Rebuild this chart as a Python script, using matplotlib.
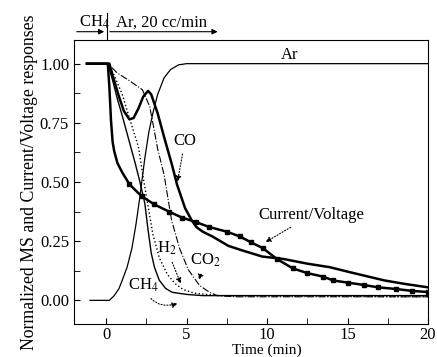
import matplotlib
matplotlib.use("Agg")
import matplotlib.pyplot as plt

plt.rcParams['font.family'] = ['Liberation Serif', 'DejaVu Serif']
plt.rcParams['mathtext.fontset'] = 'stix'

# Ar (thin solid)
t_ar = [-1.0, 0.2, 0.5, 0.8, 1.0, 1.3, 1.6, 1.85, 2.1, 2.4, 2.65, 2.9, 3.2, 3.6, 4.0, 4.5, 5.0, 20.0]
ar = [0.0, 0.0, 0.02, 0.05, 0.085, 0.14, 0.22, 0.32, 0.44, 0.6, 0.71, 0.79, 0.87, 0.94, 0.975, 0.995, 1.0, 1.0]

# Current/Voltage (thick, squares)
t_cv = [-1.2, -0.6, 0.0, 0.1, 0.2, 0.3, 0.4, 0.5, 0.7, 1.0, 1.45, 2.2, 3.0, 3.9, 4.7, 5.6, 6.4,
        7.5, 8.3, 9.0, 9.75, 10.6, 11.6, 12.5, 13.5, 14.1, 15.0, 16.0, 16.9, 18.0, 19.0, 20.0]
cv = [1.0, 1.0, 1.0, 1.0, 0.9, 0.76, 0.67, 0.63, 0.58, 0.54, 0.49, 0.44, 0.405, 0.375, 0.35, 0.33, 0.31,
      0.29, 0.27, 0.245, 0.22, 0.175, 0.135, 0.115, 0.10, 0.084, 0.075, 0.065, 0.055, 0.048, 0.04, 0.035]

# CO (solid, noisy tail)
t_co = [-1.2, 0.0, 0.2, 0.4, 0.8, 1.1, 1.44, 1.7, 2.0, 2.3, 2.6, 2.8, 3.2, 3.6, 4.1, 4.4, 4.9, 5.3,
        5.6, 6.0, 6.6, 7.6, 8.5, 9.7, 11.0, 12.5, 13.9, 15.2, 17.3, 18.5, 20.0]
co = [1.0, 1.0, 1.0, 0.95, 0.86, 0.8, 0.765, 0.77, 0.81, 0.86, 0.885, 0.87, 0.79, 0.69, 0.57, 0.49, 0.39, 0.34,
      0.31, 0.29, 0.27, 0.23, 0.21, 0.185, 0.175, 0.155, 0.14, 0.118, 0.084, 0.07, 0.055]

# CH4 (thin solid)
t_ch4 = [-1.0, 0.1, 0.4, 0.7, 1.0, 1.4, 1.8, 2.1, 2.4, 2.6, 2.8, 3.0, 3.3, 3.7, 4.1, 5.0, 6.0, 20.0]
ch4 = [1.0, 1.0, 0.93, 0.85, 0.78, 0.68, 0.58, 0.5, 0.41, 0.3, 0.2, 0.14, 0.085, 0.05, 0.034, 0.025, 0.02, 0.02]

# H2 (dotted)
t_h2 = [-1.0, 0.1, 0.5, 1.0, 1.4, 2.0, 2.3, 2.6, 2.9, 3.3, 3.8, 4.3, 4.8, 5.5, 7.0, 20.0]
h2 = [1.0, 1.0, 0.95, 0.87, 0.78, 0.65, 0.52, 0.4, 0.28, 0.18, 0.11, 0.07, 0.045, 0.03, 0.02, 0.015]

# CO2 (dash-dot)
t_co2 = [-1.0, 0.1, 0.7, 1.4, 2.25, 2.7, 2.9, 3.2, 3.6, 4.06, 4.56, 5.1, 5.8, 6.4, 6.9, 8.0, 20.0]
co2 = [1.0, 1.0, 0.96, 0.93, 0.89, 0.82, 0.75, 0.64, 0.53, 0.34, 0.22, 0.13, 0.063, 0.035, 0.02, 0.015, 0.015]

fig = plt.figure(figsize=(4.37, 3.57), dpi=100)
ax = fig.add_axes([0.1693, 0.0924, 0.8101, 0.7956])

ax.plot(t_ar, ar, 'k-', lw=0.9)
ax.plot(t_ch4, ch4, 'k-', lw=1.0)
ax.plot(t_h2, h2, 'k:', lw=1.0)
ax.plot(t_co2, co2, 'k-.', lw=0.8)
ax.plot(t_co, co, 'k-', lw=1.8)
ax.plot(t_cv, cv, 'k-', lw=1.8, marker='s', ms=3.5, markevery=slice(10, None))

ax.set_xlim(-2, 20)
ax.set_ylim(-0.1, 1.1)
ax.set_xticks([0, 5, 10, 15, 20])
ax.set_xticks([2.5, 7.5, 12.5, 17.5], minor=True)
ax.set_yticks([0.0, 0.25, 0.5, 0.75, 1.0])
ax.set_yticks([0.125, 0.375, 0.625, 0.875], minor=True)
ax.set_yticklabels(['0.00', '0.25', '0.50', '0.75', '1.00'])
ax.tick_params(which='both', direction='in', labelsize=12, top=False, right=False)
ax.tick_params(which='major', length=4)
ax.tick_params(which='minor', length=4)
ax.tick_params(axis='x', pad=2)

ax.set_ylabel('Normalized MS and Current/Voltage responses', fontsize=12.8, labelpad=1)
fig.text(267 / 437, 0.001, 'Time (min)', ha='center', va='bottom', fontsize=11)

# labels on curves
arrow = dict(arrowstyle='-|>', linestyle=':', lw=0.8, color='k', mutation_scale=8)
ax.text(11.4, 1.035, 'Ar', fontsize=12, ha='center', va='center')
ax.annotate('CO', xy=(4.4, 0.49), xytext=(4.9, 0.675), fontsize=12, ha='center', va='center', arrowprops=arrow)
ax.annotate('H$_2$', xy=(4.7, 0.06), xytext=(3.75, 0.22), fontsize=12, ha='center', va='center', arrowprops=arrow)
ax.annotate('CO$_2$', xy=(5.7, 0.075), xytext=(6.2, 0.17), fontsize=12, ha='center', va='center', arrowprops=arrow)
ax.annotate('CH$_4$', xy=(4.6, -0.01), xytext=(2.3, 0.065), fontsize=12, ha='center', va='center',
            arrowprops=dict(arrow, connectionstyle='arc3,rad=0.5'))
ax.annotate('Current/Voltage', xy=(9.75, 0.24), xytext=(12.75, 0.36), fontsize=12, ha='center', va='center',
            arrowprops=arrow)

# gas switching marks above the plot
ax.annotate('', xy=(0.05, 1.135), xytext=(-2.0, 1.135), annotation_clip=False,
            arrowprops=dict(arrowstyle='-|>', lw=0.8, color='k', mutation_scale=8))
ax.annotate('', xy=(7.1, 1.135), xytext=(0.05, 1.135), annotation_clip=False,
            arrowprops=dict(arrowstyle='-|>', lw=0.8, color='k', mutation_scale=8))
ax.plot([0.05, 0.05], [1.1, 1.215], 'k-', lw=0.8, clip_on=False)
ax.text(-0.75, 1.175, 'CH$_4$', fontsize=12, ha='center', va='center')
ax.text(3.45, 1.175, 'Ar, 20 cc/min', fontsize=12, ha='center', va='center')

fig.savefig('out.png', dpi=100)
